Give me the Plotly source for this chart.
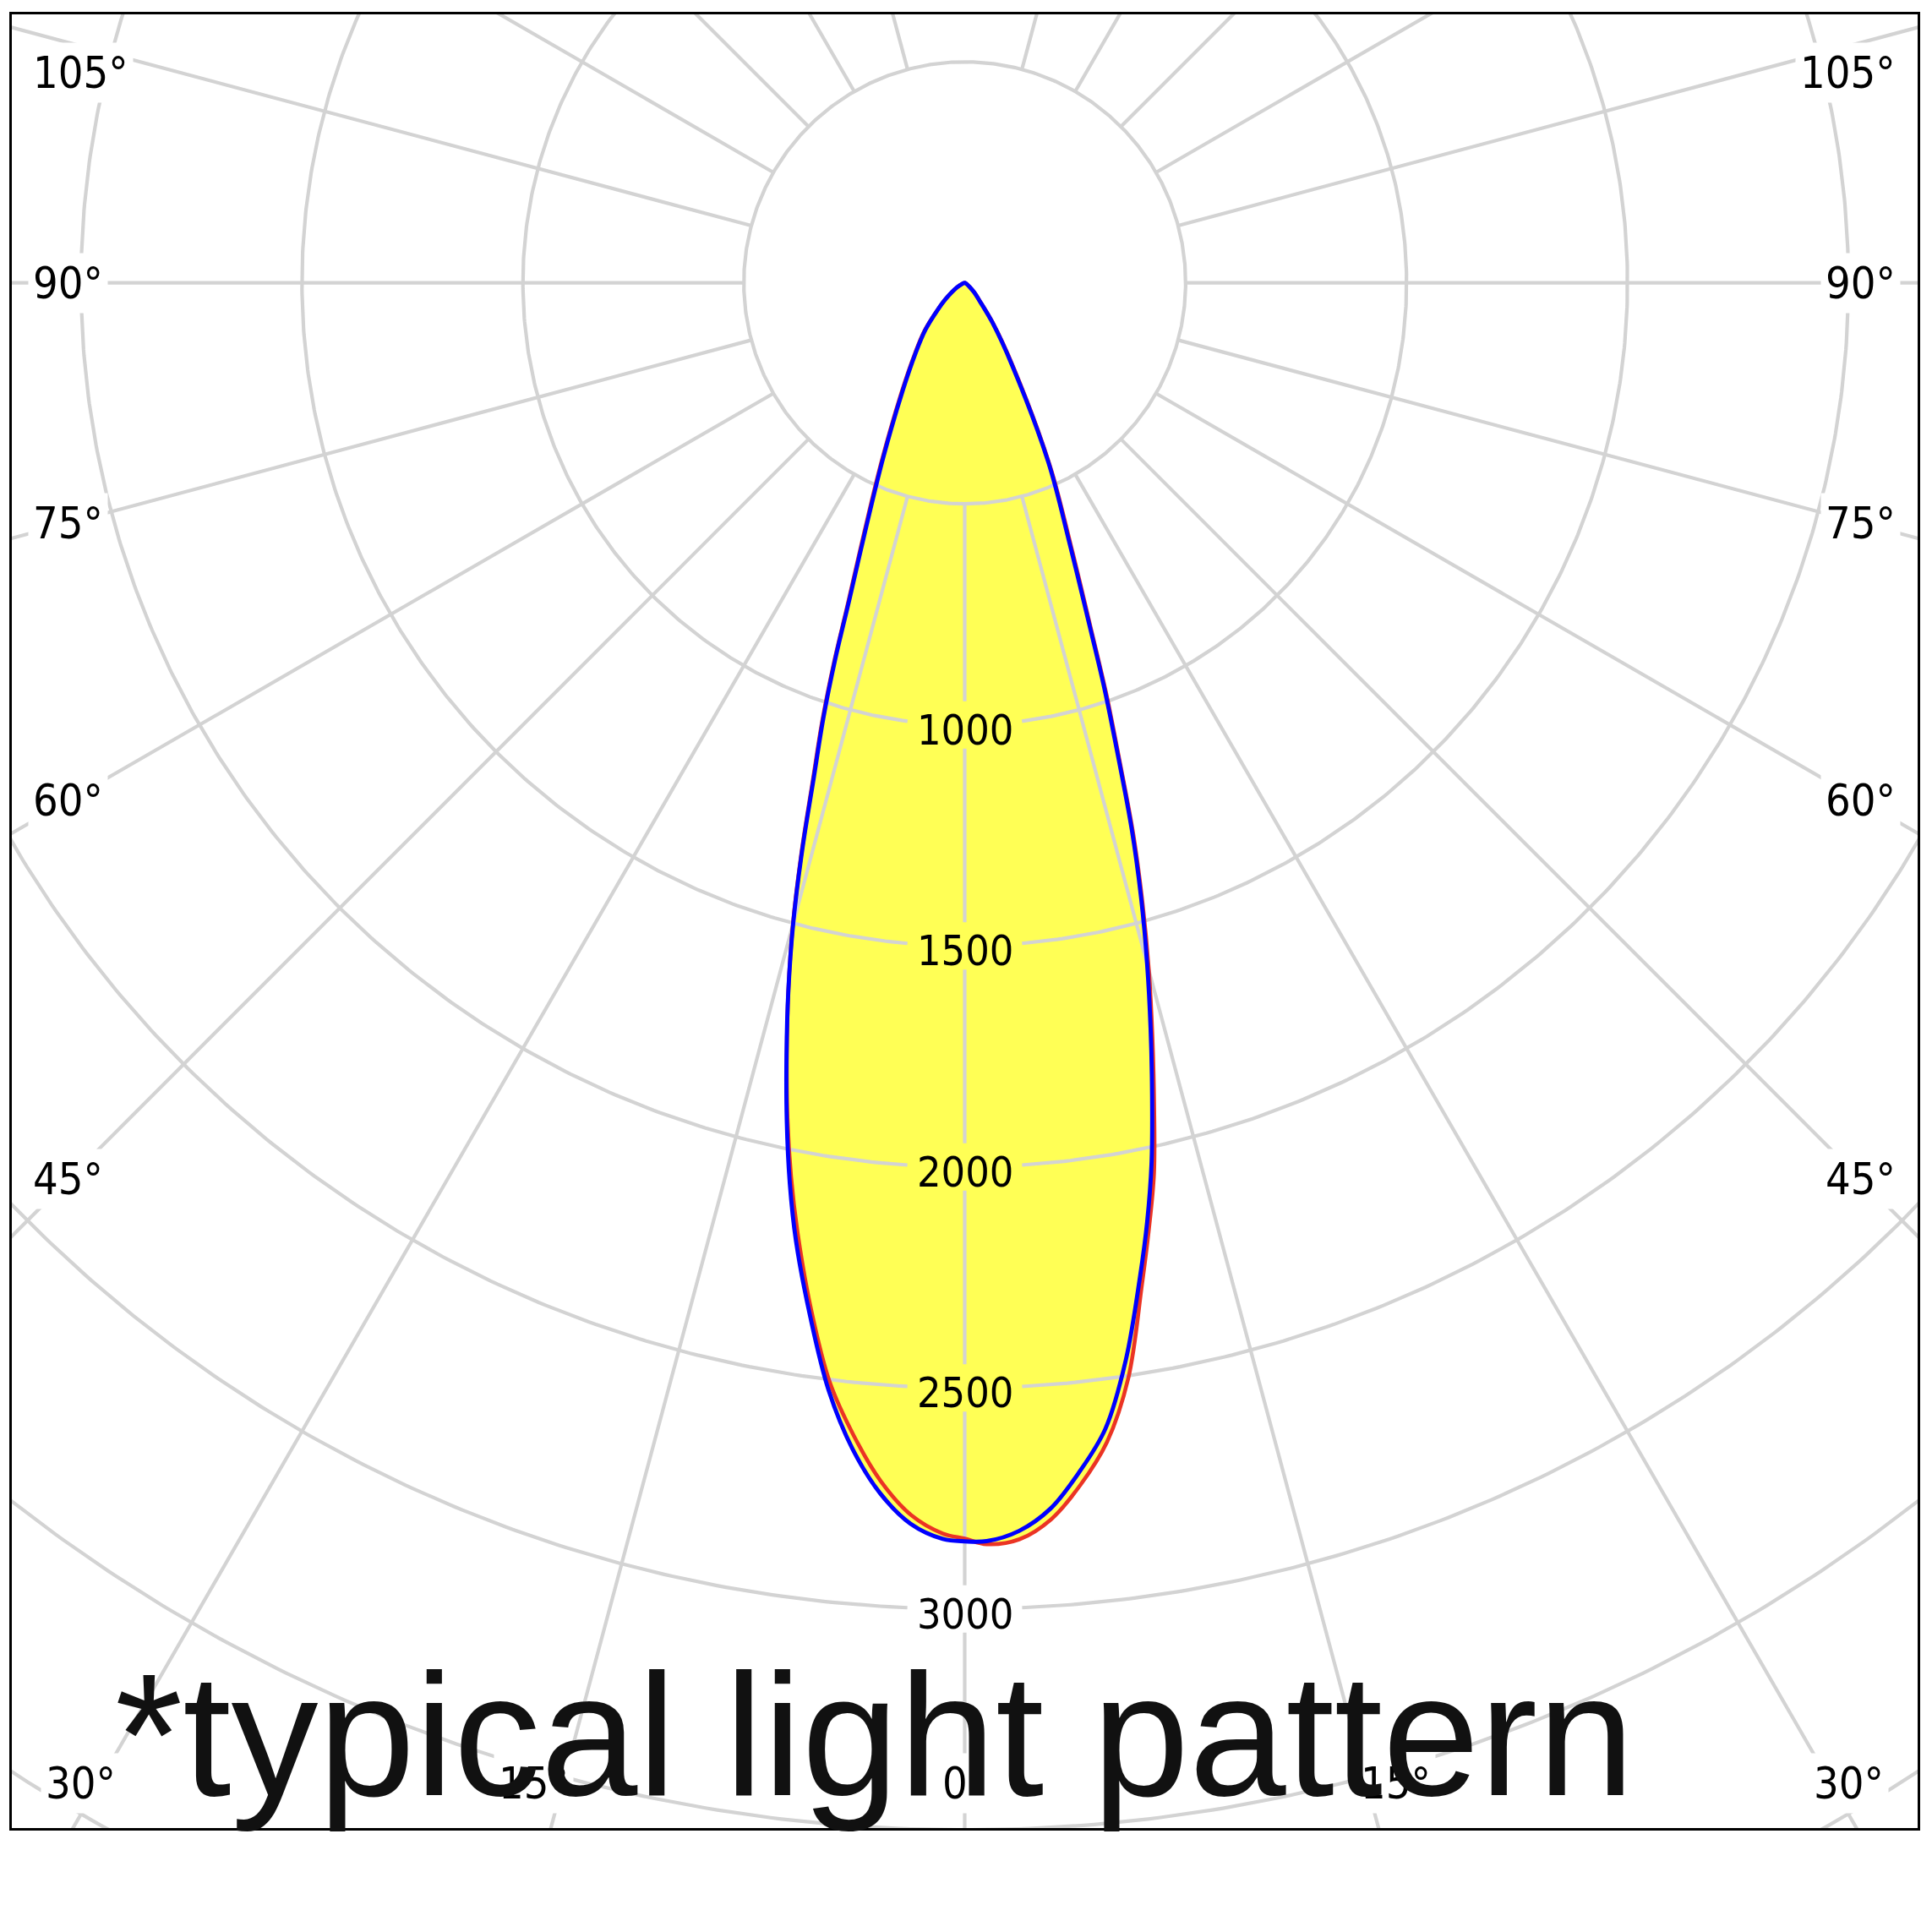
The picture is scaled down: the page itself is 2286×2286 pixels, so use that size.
import numpy as np
import plotly.graph_objects as go

# ---------------- data ----------------
gamma = [0, 1, 2.5, 4, 5.5, 7, 8.5, 10, 11, 12, 13, 14, 15, 16, 17, 18, 19, 20,
         22, 25, 30, 35, 40, 45, 50, 60, 70, 80, 90]

blue_left = [2847, 2842, 2810, 2745, 2650, 2525, 2365, 2200, 2075, 1937, 1793, 1650,
             1500, 1334, 1166, 1036, 900, 765, 595, 437, 280, 194, 138, 87, 55, 20, 6, 2, 0]
blue_right = [2847, 2847, 2826, 2780, 2703, 2612, 2465, 2284, 2164, 2034, 1885, 1739,
              1595, 1449, 1293, 1119, 972, 828, 630, 448, 212, 108, 50, 30, 15, 5, 2, 0, 0]
red_left = [2841, 2830, 2790, 2718, 2620, 2506, 2350, 2180, 2060, 1930, 1790, 1650,
            1503, 1340, 1175, 1045, 910, 775, 605, 445, 286, 198, 142, 88, 56, 20, 6, 2, 0]
red_right = [2841, 2854, 2845, 2804, 2732, 2642, 2505, 2306, 2183, 2060, 1905, 1755,
             1610, 1460, 1305, 1130, 985, 840, 642, 456, 220, 112, 52, 31, 15, 5, 2, 0, 0]

ring_values = [500, 1000, 1500, 2000, 2500, 3000, 3500, 4000]
ring_labels = [1000, 1500, 2000, 2500, 3000]
spoke_angles = list(range(-165, 166, 15))
angle_label_side = [105, 90, 75, 60, 45]
angle_label_bottom = [30, 15, 0]

# ---------------- geometry / layout constants ----------------
BODY = 8                    # default page margin around the plot div
W = H = 2286 - 2 * BODY
# target pixel positions on the page
PX_LEFT, PX_RIGHT, PX_TOP, PX_BOTTOM = 14, 2272, 15, 2163
CX, CY = 1143, 333          # pixel position of the pole
S = 0.5235                  # pixels per cd unit

x_range = [(PX_LEFT - CX) / S, (PX_RIGHT - CX) / S]
y_range = [(CY - PX_BOTTOM) / S, (CY - PX_TOP) / S]

GRID = "rgb(211,211,211)"
GRID_W = 4.2
FILL = "rgb(255,255,85)"
RED = "rgb(235,52,36)"
BLUE = "rgb(0,0,255)"
LABEL_FONT = "DejaVu Sans Condensed, DejaVu Sans, sans-serif"
SMOOTH = 1.0


def px2x(px):
    return (px - CX) / S


def px2y(py):
    return (CY - py) / S


def to_xy(ang_deg, r):
    a = np.radians(np.asarray(ang_deg, dtype=float))
    r = np.asarray(r, dtype=float)
    return r * np.sin(a), -r * np.cos(a)


def curve(left, right):
    ang = [-g for g in gamma[::-1]] + gamma[1:]
    val = left[::-1] + right[1:]
    return to_xy(ang, val)


bx, by = curve(blue_left, blue_right)
rx, ry = curve(red_left, red_right)

fig = go.Figure()

# fills (union of both planes)
for xx, yy in [(bx, by), (rx, ry)]:
    fig.add_trace(go.Scatter(x=xx, y=yy, mode="lines", fill="toself",
                             fillcolor=FILL,
                             line=dict(width=0, color=FILL, shape="spline", smoothing=SMOOTH),
                             hoverinfo="skip", showlegend=False))

# grid: rings
gx, gy = [], []
for r in ring_values:
    if r in ring_labels:
        half_gap = 68 / (r * S)
        phi = np.linspace(half_gap, 2 * np.pi - half_gap, 900)
    else:
        phi = np.linspace(0, 2 * np.pi, 900)
    gx += list(r * np.sin(phi)) + [None]
    gy += list(-r * np.cos(phi)) + [None]

# grid: spokes
gap = 28 / S
for a in spoke_angles:
    if a == 0:
        stops = [ring_values[0]]
        for r in ring_labels:
            stops += [r - gap, r + gap]
        stops += [6000]
        segs = [(stops[i], stops[i + 1]) for i in range(0, len(stops), 2)]
    else:
        segs = [(ring_values[0], 6000)]
    for r0, r1 in segs:
        xs, ys = to_xy([a, a], [r0, r1])
        gx += list(xs) + [None]
        gy += list(ys) + [None]

fig.add_trace(go.Scatter(x=gx, y=gy, mode="lines",
                         line=dict(color=GRID, width=GRID_W),
                         hoverinfo="skip", showlegend=False))

# outlines
fig.add_trace(go.Scatter(x=rx, y=ry, mode="lines",
                         line=dict(color=RED, width=4.6, shape="spline", smoothing=SMOOTH),
                         hoverinfo="skip", showlegend=False))
fig.add_trace(go.Scatter(x=bx, y=by, mode="lines",
                         line=dict(color=BLUE, width=4.9, shape="spline", smoothing=SMOOTH),
                         hoverinfo="skip", showlegend=False))

annotations = []
# ring labels
for r in ring_labels:
    annotations.append(dict(x=0, y=-r, xref="x", yref="y", text=str(r),
                            showarrow=False, yshift=-6,
                            font=dict(family=LABEL_FONT, size=50, color="black")))

# angle labels on the sides
for a in angle_label_side:
    py = CY + (CX - 82) / np.tan(np.radians(a))
    py = max(py, 84)
    for side in (-1, 1):
        if side < 0:
            xx, anchor = px2x(33), "left"
        else:
            xx, anchor = px2x(2252), "right"
        annotations.append(dict(x=xx, y=px2y(py), xref="x", yref="y",
                                text=f"{a}°", showarrow=False, xanchor=anchor,
                                yanchor="middle", bgcolor="white", borderpad=5,
                                font=dict(family=LABEL_FONT, size=52, color="black")))

# angle labels at the bottom
for a in angle_label_bottom:
    off = 1907 * np.tan(np.radians(a))
    off = min(off, CX - 96)
    for side in ((-1, 1) if a else (1,)):
        annotations.append(dict(x=px2x(CX + side * off), y=px2y(2110), xref="x", yref="y",
                                text=f"{a}°", showarrow=False, xanchor="center",
                                yanchor="middle", bgcolor="white", borderpad=5,
                                font=dict(family=LABEL_FONT, size=52, color="black")))

# note (paper coordinates so it is not hidden when outside the axis range)
plot_w = PX_RIGHT - PX_LEFT
plot_h = PX_BOTTOM - PX_TOP
annotations.append(dict(x=(134 - PX_LEFT) / plot_w, y=(PX_BOTTOM - 2170) / plot_h,
                        xref="paper", yref="paper",
                        text="*typical light pattern", showarrow=False,
                        xanchor="left", yanchor="bottom",
                        font=dict(family="Liberation Sans, Arial, sans-serif",
                                  size=206, color="rgb(17,17,17)")))

fig.update_layout(
    width=W, height=H, autosize=False,
    margin=dict(l=PX_LEFT - BODY, r=W - (PX_RIGHT - BODY),
                t=PX_TOP - BODY, b=H - (PX_BOTTOM - BODY), pad=0),
    paper_bgcolor="white", plot_bgcolor="white",
    showlegend=False, annotations=annotations,
    xaxis=dict(range=x_range, showgrid=False, zeroline=False, showticklabels=False,
               ticks="", showline=True, mirror=True, linecolor="black", linewidth=3,
               fixedrange=True),
    yaxis=dict(range=y_range, showgrid=False, zeroline=False, showticklabels=False,
               ticks="", showline=True, mirror=True, linecolor="black", linewidth=3,
               fixedrange=True),
)

fig.write_html("out.html")
